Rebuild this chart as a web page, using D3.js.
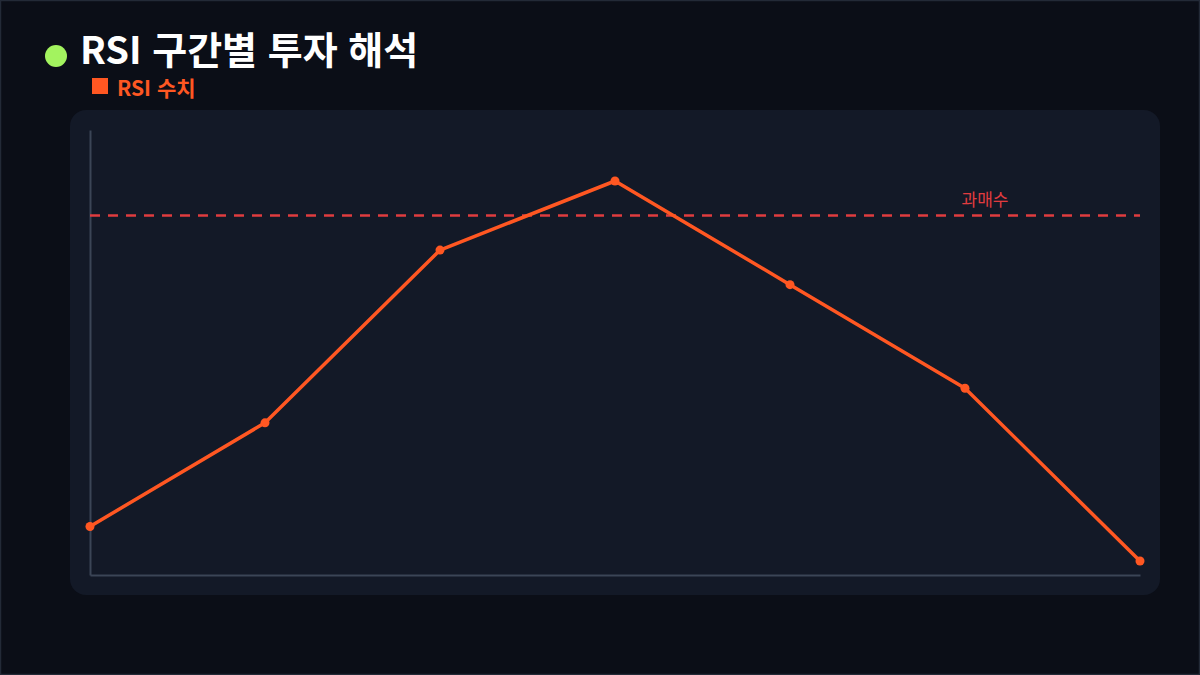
<!DOCTYPE html>
<html lang="ko">
<head>
    <meta charset="UTF-8">
    <title>RSI 구간별 투자 해석</title>
    <script src="https://d3js.org/d3.v7.min.js"></script>
    <style>
        html, body { margin: 0; padding: 0; background: #0b0e17; }
        svg { display: block; font-family: "Noto Sans CJK KR", "Noto Sans", sans-serif; }
    </style>
</head>
<body>
    <div id="chart"></div>

    <script>
        // RSI values, one per period
        const periods = ["P1", "P2", "P3", "P4", "P5", "P6", "P7"];
        const rsiValues = [25, 40, 65, 75, 60, 45, 20];
        const overbought = 70;
        const seriesName = "RSI 수치";
        const title = "RSI 구간별 투자 해석";

        const width = 1200;
        const height = 675;

        const svg = d3.select("#chart")
            .append("svg")
            .attr("width", width)
            .attr("height", height);

        // page frame
        svg.append("rect")
            .attr("x", 0.5).attr("y", 0.5)
            .attr("width", width - 1).attr("height", height - 1)
            .attr("fill", "#0b0e17")
            .attr("stroke", "#232a37")
            .attr("stroke-width", 1.5);

        // title + legend
        svg.append("circle")
            .attr("cx", 56).attr("cy", 56).attr("r", 11)
            .attr("fill", "#a3f35f");
        svg.append("text")
            .attr("x", 80).attr("y", 64)
            .attr("fill", "#ffffff")
            .attr("font-size", 38)
            .attr("font-weight", 700)
            .text(title);

        svg.append("rect")
            .attr("x", 92).attr("y", 78)
            .attr("width", 16).attr("height", 16)
            .attr("fill", "#ff5722");
        svg.append("text")
            .attr("x", 117).attr("y", 96)
            .attr("fill", "#ff5722")
            .attr("font-size", 21)
            .attr("font-weight", 700)
            .text(seriesName);

        // chart panel
        svg.append("rect")
            .attr("x", 70).attr("y", 110)
            .attr("width", 1090).attr("height", 485)
            .attr("rx", 16)
            .attr("fill", "#131927");

        // scales
        const x = d3.scalePoint()
            .domain(periods)
            .range([90, 1140]);

        const y = d3.scaleLinear()
            .domain(d3.extent(rsiValues))
            .range([561, 181]);

        // axes (lines only)
        svg.append("g")
            .attr("transform", "translate(0,575)")
            .call(d3.axisBottom(x).tickValues([]).tickSizeOuter(0))
            .select(".domain")
            .attr("stroke", "#3b4556")
            .attr("stroke-width", 2);

        svg.append("g")
            .attr("transform", "translate(90,0)")
            .call(d3.axisLeft(d3.scaleLinear().range([575, 130])).tickValues([]).tickSizeOuter(0))
            .select(".domain")
            .attr("stroke", "#3b4556")
            .attr("stroke-width", 2);

        // overbought reference line
        svg.append("line")
            .attr("x1", x.range()[0]).attr("x2", x.range()[1])
            .attr("y1", y(overbought)).attr("y2", y(overbought))
            .attr("stroke", "#e03c3f")
            .attr("stroke-width", 2.5)
            .attr("stroke-dasharray", "10,8");

        svg.append("text")
            .attr("x", 985).attr("y", y(overbought) - 10)
            .attr("text-anchor", "middle")
            .attr("fill", "#e03c3f")
            .attr("font-size", 17)
            .text("과매수");

        // RSI line
        const line = d3.line()
            .x((d, i) => x(periods[i]))
            .y(d => y(d));

        svg.append("path")
            .datum(rsiValues)
            .attr("fill", "none")
            .attr("stroke", "#ff5722")
            .attr("stroke-width", 3.5)
            .attr("stroke-linejoin", "round")
            .attr("d", line);

        svg.selectAll("circle.pt")
            .data(rsiValues)
            .join("circle")
            .attr("class", "pt")
            .attr("cx", (d, i) => x(periods[i]))
            .attr("cy", d => y(d))
            .attr("r", 4.5)
            .attr("fill", "#ff5722");
    </script>
</body>
</html>
